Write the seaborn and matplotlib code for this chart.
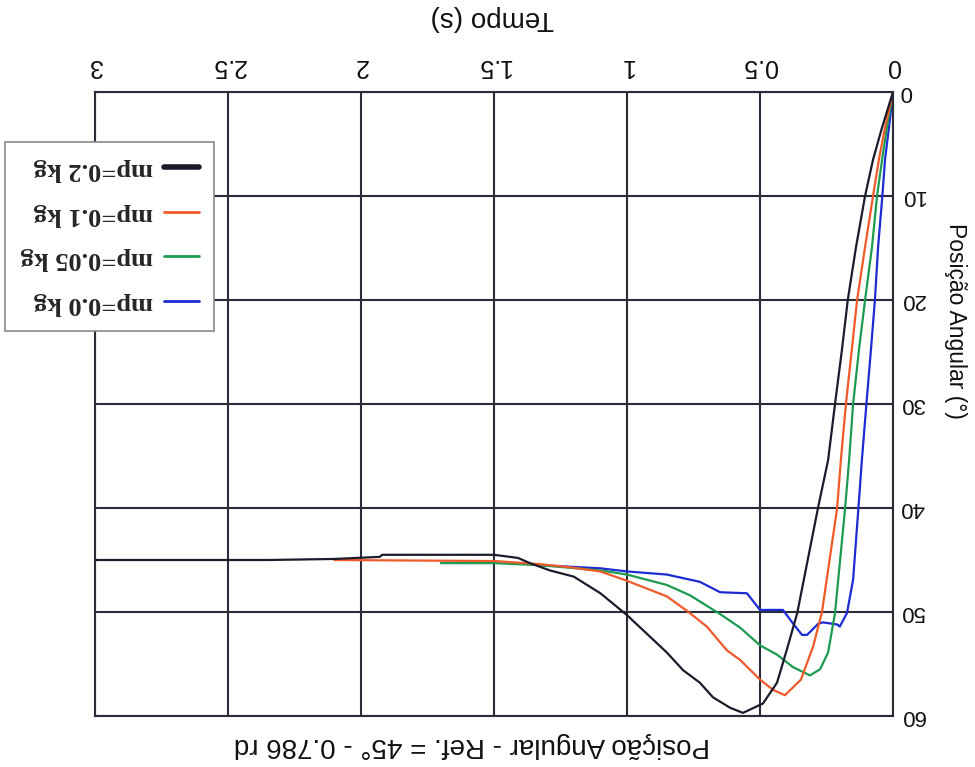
import numpy as np
import pandas as pd
import matplotlib
matplotlib.use("Agg")
import matplotlib.pyplot as plt
from matplotlib.lines import Line2D
import seaborn as sns

# Ensaios de posição angular (°) ao longo do tempo (s), um por massa mp
t_mp00 = [0, 0.015, 0.03, 0.04, 0.056, 0.068, 0.083, 0.10, 0.117, 0.13, 0.15, 0.173,
          0.20, 0.21, 0.263, 0.28, 0.323, 0.342, 0.376, 0.414, 0.50, 0.549, 0.65,
          0.726, 0.85, 1.0, 1.1, 1.327, 1.35]
th_mp00 = [0, 3.4, 6.5, 10, 14.9, 20, 24.8, 30, 35.4, 40, 46.9, 50.1,
           51.4, 51.2, 51.0, 51.1, 52.2, 52.2, 51.1, 49.8, 49.8, 48.2, 48.1,
           47.1, 46.4, 46.1, 45.8, 45.5, 45.4]

t_mp005 = [0, 0.023, 0.041, 0.06, 0.079, 0.105, 0.128, 0.15, 0.165, 0.18, 0.218,
           0.244, 0.274, 0.312, 0.376, 0.436, 0.50, 0.575, 0.65, 0.763, 0.85, 1.0,
           1.1, 1.327, 1.5, 1.7]
th_mp005 = [0, 3.4, 6.5, 10, 14.9, 20, 24.8, 30, 35.4, 40, 50.1,
            53.9, 55.5, 56.1, 55.3, 54.1, 53.2, 51.5, 50.2, 48.4, 47.4, 46.4,
            46.0, 45.5, 45.3, 45.3]

t_mp01 = [0, 0.03, 0.053, 0.075, 0.105, 0.135, 0.155, 0.177, 0.196, 0.21, 0.267,
          0.30, 0.346, 0.406, 0.45, 0.50, 0.575, 0.624, 0.70, 0.774, 0.85, 1.0,
          1.1, 1.214, 1.327, 1.5, 2.1]
th_mp01 = [0, 3.4, 6.5, 10, 14.9, 20, 24.8, 30, 35.4, 40, 50.0,
           53.3, 56.5, 58.0, 57.5, 56.5, 54.6, 53.7, 51.4, 49.9, 48.5, 47.0,
           46.1, 45.7, 45.4, 45.1, 45.0]

t_mp02 = [0, 0.041, 0.075, 0.105, 0.139, 0.17, 0.192, 0.218, 0.244, 0.282, 0.36,
          0.40, 0.436, 0.489, 0.564, 0.613, 0.677, 0.726, 0.789, 0.85, 1.0, 1.1,
          1.2, 1.29, 1.365, 1.41, 1.5, 1.92, 1.93, 2.1, 2.35, 3.0]
th_mp02 = [0, 3.4, 6.5, 10, 14.9, 20, 24.8, 30, 35.4, 40, 50.1,
           53.7, 56.8, 58.8, 59.7, 59.2, 58.2, 56.8, 55.6, 53.9, 50.3, 48.2,
           46.6, 46.0, 45.3, 44.8, 44.5, 44.5, 44.7, 44.9, 45.0, 45.0]

series_labels = ["mp=0.0 kg", "mp=0.05 kg", "mp=0.1 kg", "mp=0.2 kg"]
series_colors = ["#1c2cd2", "#1c9a50", "#f05a2a", "#1b1b2b"]

x_ticks = [0, 0.5, 1, 1.5, 2, 2.5, 3]
x_tick_labels = ["0", "0.5", "1", "1.5", "2", "2.5", "3"]
y_ticks = [0, 10, 20, 30, 40, 50, 60]
y_tick_labels = ["0", "10", "20", "30", "40", "50", "60"]

title_text = "Posição Angular - Ref. = 45° - 0.786 rd"
x_label = "Tempo (s)"
y_label = "Posição Angular (°)"

sns.set_style("white")
plt.rcParams["font.family"] = ["Liberation Sans", "DejaVu Sans"]

W, H = 975, 767
fig = plt.figure(figsize=(W / 100, H / 100), dpi=100)
fig.patch.set_facecolor("white")
ax = fig.add_axes([95 / W, 1 - 716 / H, (893 - 95) / W, (716 - 92) / H])

frames = []
for lab, t, th in zip(series_labels,
                      [t_mp00, t_mp005, t_mp01, t_mp02],
                      [th_mp00, th_mp005, th_mp01, th_mp02]):
    frames.append(pd.DataFrame({"Tempo": t, "Posicao": th, "serie": lab}))
df = pd.concat(frames, ignore_index=True)

sns.lineplot(data=df, x="Tempo", y="Posicao", hue="serie",
             hue_order=series_labels,
             palette=dict(zip(series_labels, series_colors)),
             sort=False, estimator=None, linewidth=1.6, ax=ax, legend=False)

grid_color = "#2c2c38"
# The whole chart is shown turned upside down (rotated 180°)
ax.set_xlim(3, 0)
ax.set_ylim(60, 0)
ax.xaxis.tick_top()
ax.yaxis.tick_right()
ax.set_xticks(x_ticks, x_tick_labels)
ax.set_yticks(y_ticks, y_tick_labels)
ax.tick_params(axis="x", labelsize=18, pad=10, length=0, labelrotation=180,
               colors="#111111")
ax.tick_params(axis="y", labelsize=16, pad=5, length=0, labelrotation=180,
               colors="#111111")
for tick in ax.yaxis.get_major_ticks():
    tick.label2.set_verticalalignment("center")
ax.set_xlabel("")
ax.set_ylabel("")
ax.grid(True, color=grid_color, linewidth=1.5)
for s in ax.spines.values():
    s.set_visible(True)
    s.set_color(grid_color)
    s.set_linewidth(1.5)

fig.text(472 / W, 1 - 745 / H, title_text, rotation=180, ha="center", va="center",
         fontsize=20, color="#111111")
fig.text(492 / W, 1 - 18 / H, x_label, rotation=180, ha="center", va="center",
         fontsize=20, color="#111111")
fig.text(956 / W, 1 - 321 / H, y_label, rotation=270, ha="center", va="center",
         fontsize=16.5, color="#111111")

# Legend: reversed order, line handle after the text
order = [3, 2, 1, 0]
handle_widths = {3: 4.0}
handles = [Line2D([], [], color=series_colors[i], linewidth=handle_widths.get(i, 2.0))
           for i in order]
leg = fig.legend(handles, [series_labels[i] for i in order],
                 loc="upper left", bbox_to_anchor=(5 / W, 1 - 142 / H),
                 markerfirst=False, frameon=True, fancybox=False, shadow=False,
                 borderaxespad=0, borderpad=0.6, labelspacing=0.8,
                 handlelength=1.3, handletextpad=0.42, framealpha=1,
                 prop={"family": ["Liberation Serif"], "weight": "bold", "size": 19})
leg.get_frame().set_edgecolor("#8a8a8a")
leg.get_frame().set_linewidth(1.2)
for txt in leg.get_texts():
    txt.set_rotation(180)

fig.savefig("out.png", dpi=100)
